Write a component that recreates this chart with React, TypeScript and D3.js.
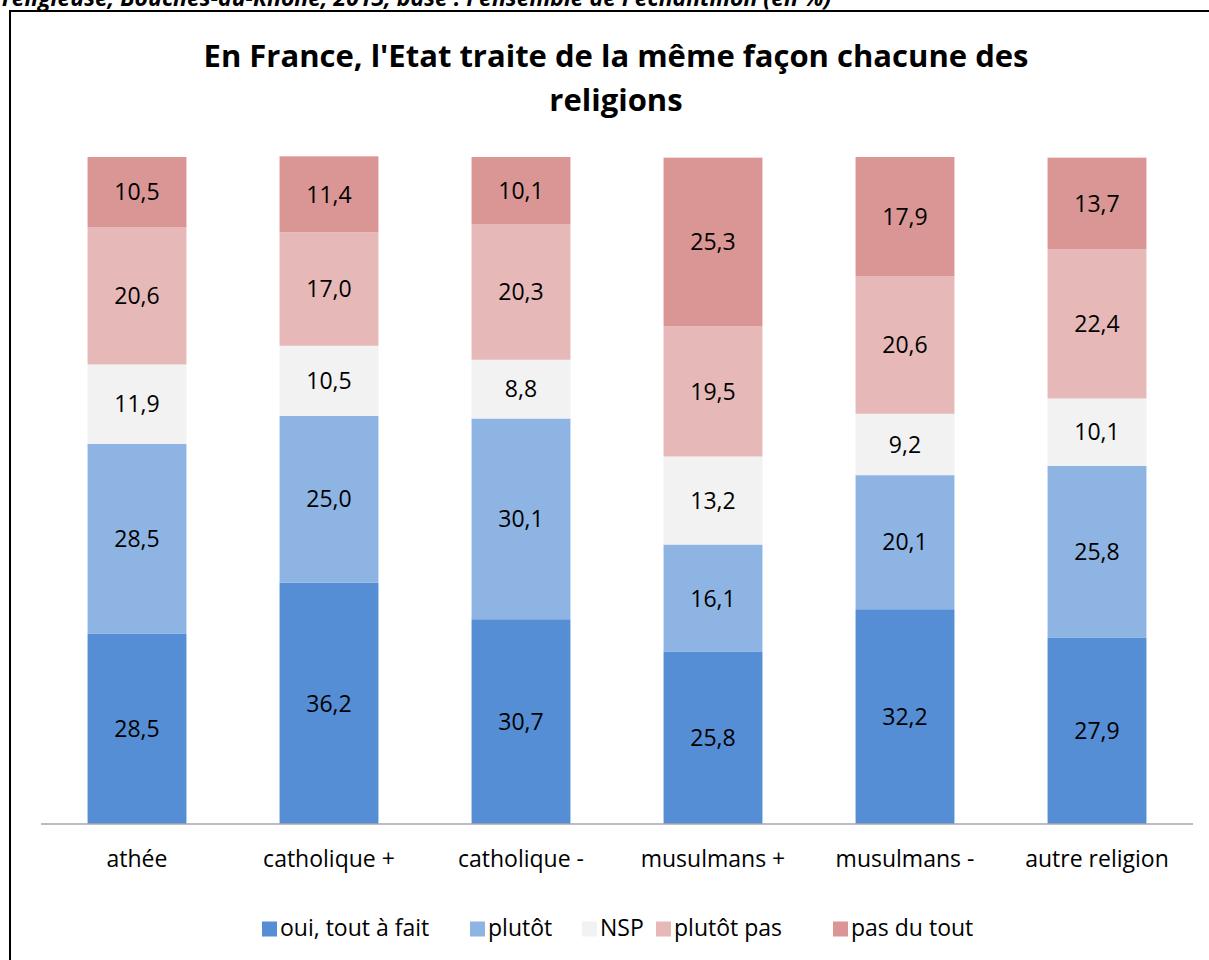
import React, { useEffect, useRef } from 'react';
import * as d3 from 'd3';

const categories = ['athée', 'catholique +', 'catholique -', 'musulmans +', 'musulmans -', 'autre religion'];
const seriesNames = ['oui, tout à fait', 'plutôt', 'NSP', 'plutôt pas', 'pas du tout'];
const ouiToutAFait = [28.5, 36.2, 30.7, 25.8, 32.2, 27.9];
const plutot = [28.5, 25.0, 30.1, 16.1, 20.1, 25.8];
const nsp = [11.9, 10.5, 8.8, 13.2, 9.2, 10.1];
const plutotPas = [20.6, 17.0, 20.3, 19.5, 20.6, 22.4];
const pasDuTout = [10.5, 11.4, 10.1, 25.3, 17.9, 13.7];
const colors = ['#558ED5', '#8EB4E3', '#F2F2F2', '#E6B9B8', '#D99694'];

const FONT = '"Open Sans", "Noto Sans", sans-serif';

const App = () => {
  const svgRef = useRef<SVGSVGElement>(null);

  useEffect(() => {
    const svg = d3.select(svgRef.current);
    svg.selectAll('*').remove();

    const W = 1209;
    const H = 960;
    const plot = { left: 41, right: 1193, top: 157, bottom: 824 };

    // caption cut off by the top of the page
    svg.append('text')
      .attr('x', 2)
      .attr('y', 6)
      .style('font-family', FONT)
      .style('font-size', '23px')
      .style('font-weight', 'bold')
      .style('font-style', 'italic')
      .text("religieuse, Bouches-du-Rhône, 2013, base : l'ensemble de l'échantillon (en %)");

    // chart frame
    svg.append('rect')
      .attr('x', 10)
      .attr('y', 11)
      .attr('width', W + 20)
      .attr('height', H)
      .attr('fill', 'white')
      .attr('stroke', 'black')
      .attr('stroke-width', 2);

    // title
    const title = svg.append('text')
      .attr('text-anchor', 'middle')
      .style('font-family', FONT)
      .style('font-size', '31px')
      .style('font-weight', 'bold');
    title.append('tspan').attr('x', 616).attr('y', 67).text("En France, l'Etat traite de la même façon chacune des");
    title.append('tspan').attr('x', 616).attr('y', 111).text('religions');

    const x = d3.scaleBand()
      .domain(categories)
      .range([plot.left, plot.right])
      .paddingInner(0.485)
      .paddingOuter(0.2425);

    const y = d3.scaleLinear()
      .domain([0, 100])
      .range([plot.bottom, plot.top]);

    const rows = categories.map((c, i) => ({
      category: c,
      values: [ouiToutAFait[i], plutot[i], nsp[i], plutotPas[i], pasDuTout[i]]
    }));

    const g = svg.append('g');
    rows.forEach(row => {
      let acc = 0;
      row.values.forEach((v, k) => {
        const y0 = y(acc);
        const y1 = y(acc + v);
        acc += v;
        g.append('rect')
          .attr('x', x(row.category)!)
          .attr('y', y1)
          .attr('width', x.bandwidth())
          .attr('height', y0 - y1)
          .attr('fill', colors[k]);
        g.append('text')
          .attr('x', x(row.category)! + x.bandwidth() / 2)
          .attr('y', (y0 + y1) / 2)
          .attr('dy', '0.36em')
          .attr('text-anchor', 'middle')
          .style('font-family', FONT)
          .style('font-size', '23px')
          .text(v.toFixed(1).replace('.', ','));
      });
    });

    // x axis line
    svg.append('line')
      .attr('x1', plot.left)
      .attr('x2', plot.right)
      .attr('y1', plot.bottom)
      .attr('y2', plot.bottom)
      .attr('stroke', '#A6A6A6')
      .attr('stroke-width', 1.5);

    // category labels
    svg.selectAll('.cat')
      .data(categories)
      .enter()
      .append('text')
      .attr('x', d => x(d)! + x.bandwidth() / 2)
      .attr('y', 867)
      .attr('text-anchor', 'middle')
      .style('font-family', FONT)
      .style('font-size', '23px')
      .text(d => d);

    // legend
    const legendX = [262, 470, 582, 656, 833];
    const legend = svg.append('g');
    seriesNames.forEach((name, k) => {
      legend.append('rect')
        .attr('x', legendX[k])
        .attr('y', 921.5)
        .attr('width', 15)
        .attr('height', 15)
        .attr('fill', colors[k]);
      legend.append('text')
        .attr('x', legendX[k] + 18)
        .attr('y', 936)
        .style('font-family', FONT)
        .style('font-size', '23px')
        .text(name);
    });
  }, []);

  return (
    <div style={{ position: 'absolute', left: 0, top: 0 }}>
      <svg ref={svgRef} width={1209} height={960} style={{ display: 'block' }} />
    </div>
  );
};

export default App;
